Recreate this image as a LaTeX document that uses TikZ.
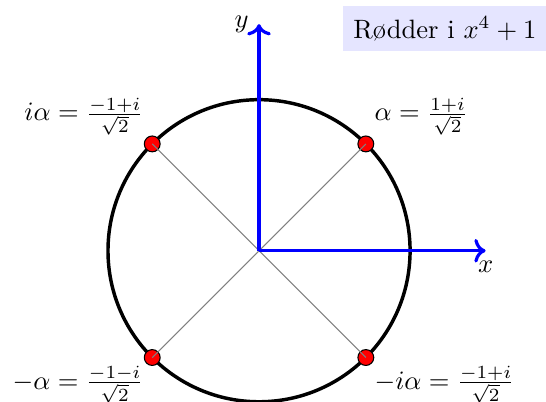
\documentclass[tikz,border=0pt]{standalone}
\usepackage{amsmath, amssymb}
\usepackage{tikz}
\usetikzlibrary{arrows.meta, positioning}

\begin{document}
\begin{tikzpicture}[
    >=To,
    axis/.style={->, very thick, blue},
    rootdot/.style={circle, draw, fill=red, inner sep=0pt, minimum size=0.21cm},
    spoke/.style={gray, thin}
]
    \useasboundingbox (-3.43,-2.0) rectangle (3.80,3.32);

    \coordinate (origin) at (0,0);
    \coordinate (xend) at (3,0);
    \coordinate (yend) at (0,3);

    \draw[line width=1.3pt] (origin) circle (2);

    \node[rootdot, label={[label distance=-3.5pt]above right:\(\alpha=\frac{1+i}{\sqrt{2}}\)}] (alpha) at (45:2) {};
    \node[rootdot, label={[label distance=-3.5pt]above left:\(i\alpha=\frac{-1+i}{\sqrt{2}}\)}] (ialpha) at (135:2) {};
    \node[rootdot, label={[label distance=-3.5pt]below left:\(-\alpha=\frac{-1-i}{\sqrt{2}}\)}] (malpha) at (225:2) {};
    \node[rootdot, label={[label distance=-3.5pt]below right:\(-i\alpha=\frac{-1+i}{\sqrt{2}}\)}] (mialpha) at (315:2) {};

    \draw[spoke] (origin) -- (alpha.center);
    \draw[spoke] (origin) -- (ialpha.center);
    \draw[spoke] (origin) -- (malpha.center);
    \draw[spoke] (origin) -- (mialpha.center);

    \draw[axis] (origin) -- (xend) node[below, black] (xlab) {\(x\)};
    \draw[axis] (origin) -- (yend) node[left, black] (ylab) {\(y\)};

    \node[fill=blue!10, inner sep=4pt] (title) at (2.46,2.94) {Rødder i \(x^4+1\)};
\end{tikzpicture}
\end{document}
